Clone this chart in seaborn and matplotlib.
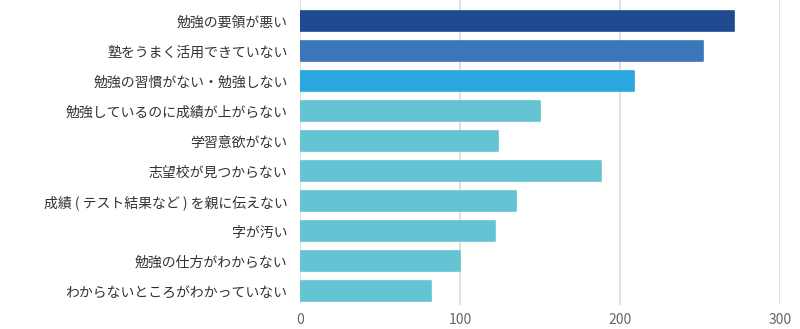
import matplotlib
matplotlib.use("Agg")
import matplotlib.pyplot as plt
import seaborn as sns
import pandas as pd

categories = [
    "勉強の要領が悪い",
    "塾をうまく活用できていない",
    "勉強の習慣がない・勉強しない",
    "勉強しているのに成績が上がらない",
    "学習意欲がない",
    "志望校が見つからない",
    "成績 ( テスト結果など ) を親に伝えない",
    "字が汚い",
    "勉強の仕方がわからない",
    "わからないところがわかっていない",
]
values = [271, 252, 209, 150, 124, 188, 135, 122, 100, 82]
colors = ["#1e4a8f", "#3b75ba", "#2ba7e0", "#65c4d4", "#65c4d4",
          "#65c4d4", "#65c4d4", "#65c4d4", "#65c4d4", "#65c4d4"]
xticks = [0, 100, 200, 300]

sns.set_theme(style="white")
plt.rcParams["font.family"] = ["Noto Sans CJK JP", "DejaVu Sans"]

df = pd.DataFrame({"category": categories, "value": values})

fig = plt.figure(figsize=(8, 3.29), dpi=100)
ax = fig.add_axes([300 / 800, 1 - 305 / 329, 480 / 800, 305 / 329])

ax.set_axisbelow(True)
for t in xticks:
    ax.axvline(t, color="#dddddd", lw=1.3, zorder=0)

sns.barplot(data=df, x="value", y="category", hue="category",
            palette=colors, legend=False, orient="h", width=0.667,
            saturation=1, ax=ax, zorder=2)
for p, c in zip(ax.patches, colors):
    p.set_edgecolor(c)
    p.set_linewidth(1.2)
    p.set_joinstyle("round")

ax.set_xlim(0, 300)
ax.set_ylim(9.467, -0.7)
ax.set_xticks(xticks)
ax.set_xticklabels([str(t) for t in xticks], color="#666666", fontsize=10)
ax.tick_params(axis="x", length=0, pad=6)
ax.tick_params(axis="y", length=0, pad=9, labelsize=10, labelcolor="#333333")
ax.set_xlabel("")
ax.set_ylabel("")
for s in ax.spines.values():
    s.set_visible(False)

fig.savefig("out.png", dpi=100, facecolor="white")
